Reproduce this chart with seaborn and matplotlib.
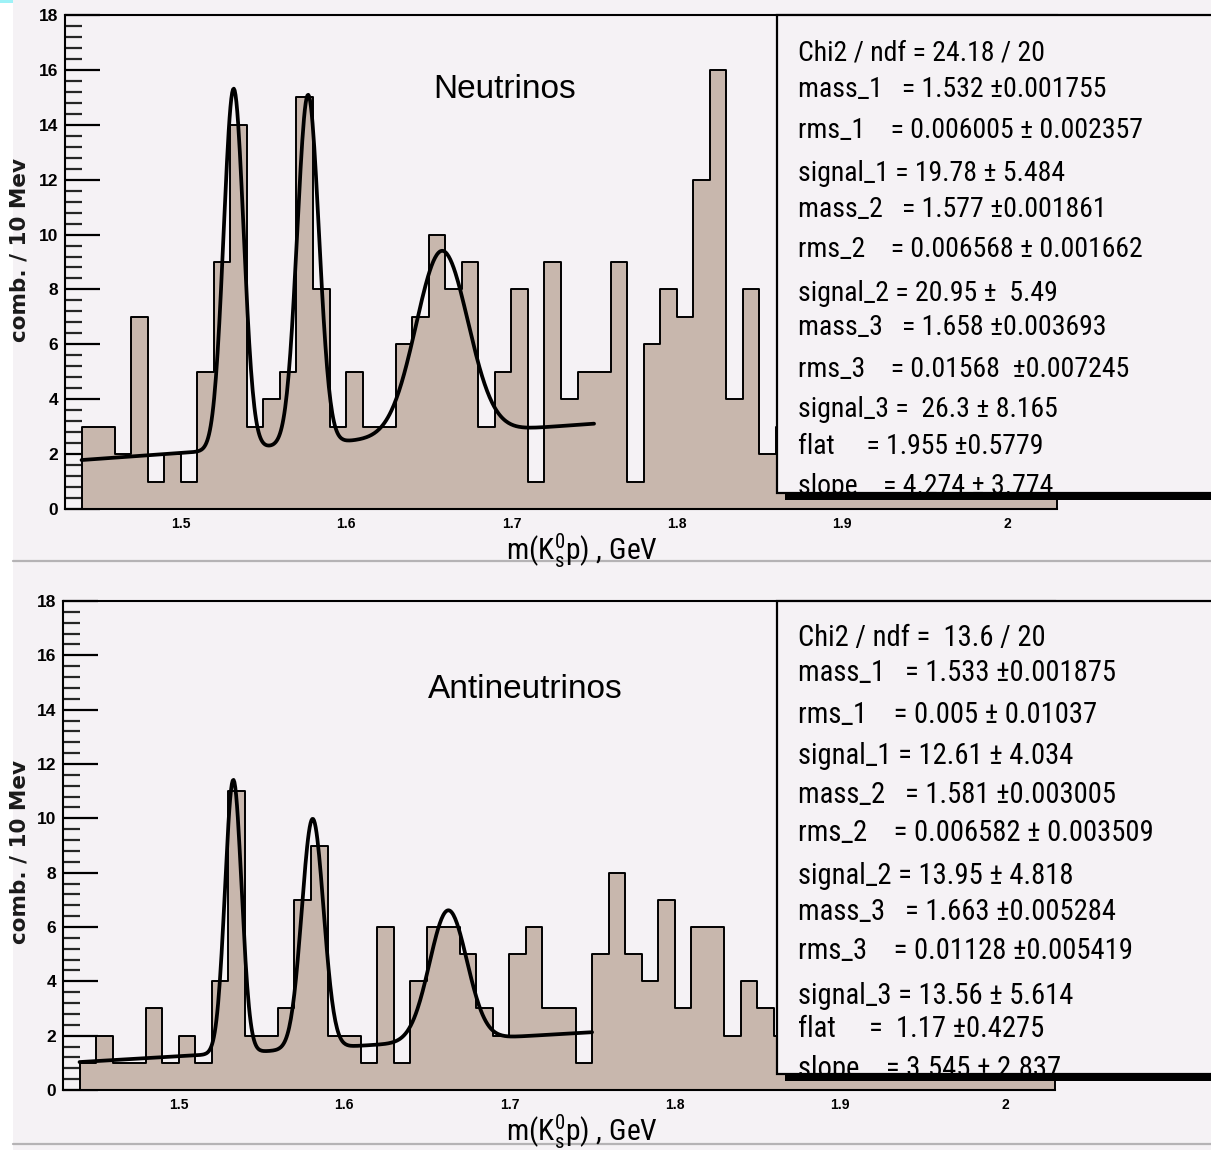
import numpy as np
import pandas as pd
import matplotlib
matplotlib.use("Agg")
import matplotlib.pyplot as plt
import seaborn as sns
from matplotlib.patches import Rectangle
from matplotlib.lines import Line2D
from matplotlib.ticker import FixedLocator, MultipleLocator
from matplotlib import font_manager as fm

# ---------------------------------------------------------------- data
BIN_LO = 1.44          # GeV, lower edge of first bin
BIN_W = 0.01           # GeV, 10 MeV bins

# K0s p combinations per 10 MeV bin, 1.44 .. 2.03 GeV
nu_counts = [3, 3, 2, 7, 1, 2, 1, 5, 9, 14, 3, 4, 5, 15, 8, 3, 5, 3, 3, 6,
             7, 10, 8, 9, 3, 5, 8, 1, 9, 4, 5, 5, 9, 1, 6, 8, 7, 12, 16, 4,
             8, 2, 3, 5, 2, 4, 3, 1, 2, 3, 2, 1, 2, 1, 2, 1, 1, 2, 1]
anu_counts = [1, 2, 1, 1, 3, 1, 2, 1, 4, 11, 2, 2, 3, 7, 9, 2, 2, 1, 6, 1,
              4, 6, 6, 5, 3, 2, 5, 6, 3, 3, 1, 5, 8, 5, 4, 7, 3, 6, 6, 2,
              4, 3, 2, 3, 1, 2, 2, 1, 3, 1, 2, 1, 1, 2, 1, 1, 1, 1, 1]

# fit results: three gaussians on a linear background
nu_mass = [1.532, 1.577, 1.658]
nu_rms = [0.006005, 0.006568, 0.01568]
nu_signal = [19.78, 20.95, 26.3]
nu_flat, nu_slope = 1.955, 4.274

anu_mass = [1.533, 1.581, 1.663]
anu_rms = [0.005, 0.006582, 0.01128]
anu_signal = [12.61, 13.95, 13.56]
anu_flat, anu_slope = 1.17, 3.545

FIT_RANGE = (1.44, 1.75)
BKG_REF = 1.48

nu_stats = ["Chi2 / ndf = 24.18 / 20",
            "mass_1   = 1.532 \u00b10.001755",
            "rms_1    = 0.006005 \u00b1 0.002357",
            "signal_1 = 19.78 \u00b1 5.484",
            "mass_2   = 1.577 \u00b10.001861",
            "rms_2    = 0.006568 \u00b1 0.001662",
            "signal_2 = 20.95 \u00b1  5.49",
            "mass_3   = 1.658 \u00b10.003693",
            "rms_3    = 0.01568  \u00b10.007245",
            "signal_3 =  26.3 \u00b1 8.165",
            "flat     = 1.955 \u00b10.5779",
            "slope    = 4.274 \u00b1 3.774"]
anu_stats = ["Chi2 / ndf =  13.6 / 20",
             "mass_1   = 1.533 \u00b10.001875",
             "rms_1    = 0.005 \u00b1 0.01037",
             "signal_1 = 12.61 \u00b1 4.034",
             "mass_2   = 1.581 \u00b10.003005",
             "rms_2    = 0.006582 \u00b1 0.003509",
             "signal_2 = 13.95 \u00b1 4.818",
             "mass_3   = 1.663 \u00b10.005284",
             "rms_3    = 0.01128 \u00b10.005419",
             "signal_3 = 13.56 \u00b1 5.614",
             "flat     =  1.17 \u00b10.4275",
             "slope    = 3.545 \u00b1 2.837"]

x_ticks = [1.5, 1.6, 1.7, 1.8, 1.9, 2.0]
x_ticklabels = ["1.5", "1.6", "1.7", "1.8", "1.9", "2"]
x_minor = [1.45, 1.55, 1.65, 1.75, 1.85, 1.95]
y_ticks = list(range(0, 19, 2))


# ---------------------------------------------------------------- fonts
def _regular(entry):
    w = entry.weight
    if isinstance(w, str):
        return w.lower() in ("normal", "regular", "book", "medium")
    return 400 <= w <= 500


def find_narrow_font():
    prefs = ["Liberation Sans Narrow", "Roboto Condensed", "Noto Sans Condensed",
             "Noto Sans Cond", "Open Sans Condensed", "DejaVu Sans Condensed",
             "Arial Narrow"]
    entries = [e for e in fm.fontManager.ttflist
               if e.style == "normal" and _regular(e)]
    for p in prefs:
        for e in entries:
            if e.name == p:
                return fm.FontProperties(fname=e.fname)
    for e in entries:
        if str(e.stretch) in ("condensed", "semi-condensed", "extra-condensed"):
            return fm.FontProperties(fname=e.fname)
    return fm.FontProperties(family="Liberation Sans")


NARROW_FP = find_narrow_font()

sns.set_theme(style="ticks")
BG = "#f5f2f5"
TAN = "#c8b7ad"
plt.rcParams["font.family"] = ["Liberation Sans", "DejaVu Sans"]
plt.rcParams["text.color"] = "black"
plt.rcParams["mathtext.fontset"] = "custom"
plt.rcParams["mathtext.rm"] = NARROW_FP.get_name()
plt.rcParams["mathtext.it"] = NARROW_FP.get_name()
plt.rcParams["mathtext.default"] = "regular"

W, H = 1211, 1150
fig = plt.figure(figsize=(W / 100, H / 100), dpi=100, facecolor=BG)
renderer = fig.canvas.get_renderer()


def fx(px):
    return px / W


def fy(py):
    return 1 - py / H


def px_rect(x0, y0, x1, y1, **kw):
    return Rectangle((fx(x0), fy(y1)), (x1 - x0) / W, (y1 - y0) / H,
                     transform=fig.transFigure, **kw)


def fit_width(text, target_px):
    """Scale a text's font size so that it spans target_px pixels."""
    w = text.get_window_extent(renderer).width
    text.set_fontsize(text.get_fontsize() * target_px / w)
    return text.get_fontsize()


# left white margin strip and separators between the two pads
fig.add_artist(px_rect(0, 0, 13, H, fc="white", ec="none", zorder=0))
fig.add_artist(px_rect(0, 0, 13, 3, fc="#9ef2f7", ec="none", zorder=0))
for ysep in (561, 1144):
    fig.add_artist(Line2D([fx(13), 1], [fy(ysep), fy(ysep)],
                          transform=fig.transFigure, color="#b5b3b5", lw=1.6))


def fit_curve(x, mass, rms, signal, flat, slope):
    y = flat + slope * (x - BKG_REF)
    for m, s, n in zip(mass, rms, signal):
        y = y + n * BIN_W / (np.sqrt(2 * np.pi) * s) * np.exp(-0.5 * ((x - m) / s) ** 2)
    return y


def draw_panel(frame, counts, mass, rms, signal, flat, slope, title, title_xy,
               stats, stats_y):
    left, top, right, bottom = frame
    ax = fig.add_axes([fx(left), fy(bottom), (right - left) / W, (bottom - top) / H])
    ax.set_facecolor(BG)

    edges = [round(BIN_LO + BIN_W * i, 4) for i in range(len(counts) + 1)]
    hist_df = pd.DataFrame({
        "mass": [round(BIN_LO + BIN_W * (i + 0.5), 4) for i in range(len(counts))],
        "n": counts,
    })
    sns.histplot(data=hist_df, x="mass", weights="n", bins=edges, element="step",
                 fill=True, color=TAN, edgecolor="black", linewidth=1.4, alpha=1,
                 ax=ax)

    xs = np.linspace(FIT_RANGE[0], FIT_RANGE[1], 600)
    fit_df = pd.DataFrame({"mass": xs,
                           "fit": fit_curve(xs, mass, rms, signal, flat, slope)})
    sns.lineplot(data=fit_df, x="mass", y="fit", color="black", linewidth=2.7,
                 sort=False, estimator=None, ax=ax)

    ax.set_xlim(1.43, 2.03)
    ax.set_ylim(0, 18)
    ax.set_xlabel("")
    ax.set_ylabel("")
    ax.xaxis.set_major_locator(FixedLocator(x_ticks))
    ax.set_xticklabels(x_ticklabels)
    ax.xaxis.set_minor_locator(FixedLocator(x_minor))
    ax.yaxis.set_major_locator(FixedLocator(y_ticks))
    ax.yaxis.set_minor_locator(MultipleLocator(0.4))
    ax.tick_params(axis="y", which="major", direction="in", length=25, width=1.6,
                   labelsize=12.5, pad=5, colors="black")
    ax.tick_params(axis="y", which="minor", direction="in", length=12, width=1.6)
    ax.tick_params(axis="x", which="major", direction="in", length=10, width=1.2,
                   labelsize=10, pad=5.5, colors="black")
    ax.tick_params(axis="x", which="minor", direction="in", length=4, width=1.2)
    for lab in ax.get_xticklabels() + ax.get_yticklabels():
        lab.set_fontweight("bold")
    for side in ("left", "bottom", "top"):
        ax.spines[side].set_linewidth(1.5)
        ax.spines[side].set_color("black")
    ax.spines["right"].set_visible(False)

    ax.text(title_xy[0], title_xy[1], title, transform=fig.transFigure,
            ha="center", va="center", fontsize=24, color="black")

    # fit statistics box with its drop shadow
    box = px_rect(777, top, W + 20, bottom - 16, fc=BG, ec="black", lw=1.6, zorder=5)
    fig.add_artist(box)
    fig.add_artist(px_rect(785, bottom - 16, W + 20, bottom - 9, fc="black",
                           ec="none", zorder=5))
    texts = []
    for s, yc in zip(stats, stats_y):
        t = fig.text(fx(798), fy(yc + 10), s, ha="left", va="baseline",
                     fontproperties=NARROW_FP, fontsize=21, zorder=6,
                     color="black")
        t.set_clip_path(box)
        texts.append(t)
    size = fit_width(texts[0], 246)
    for t in texts[1:]:
        t.set_fontsize(size)

    xl = fig.text(fx(582), fy(bottom + 42), "m(K$^0_s$p) , GeV", ha="center",
                  va="center", fontproperties=NARROW_FP, fontsize=20,
                  color="black")
    fit_width(xl, 152)
    fig.text(fx(20), fy(title_xy[2]), "comb. / 10 Mev",
             rotation=90, ha="center", va="center", fontsize=15.5,
             fontweight="bold", family=["DejaVu Sans"], color="#1a1a1a")
    return ax


draw_panel((65, 15, 1057, 509), nu_counts, nu_mass, nu_rms, nu_signal,
           nu_flat, nu_slope, "Neutrinos", (fx(505), fy(90), 250), nu_stats,
           [50, 87, 128, 171, 207, 247, 291, 325, 367, 407, 444, 484])
draw_panel((63, 601, 1055, 1090), anu_counts, anu_mass, anu_rms, anu_signal,
           anu_flat, anu_slope, "Antineutrinos", (fx(525), fy(690), 852), anu_stats,
           [636, 671, 713, 754, 793, 831, 874, 910, 949, 994, 1027, 1067])

fig.savefig("out.png", dpi=100, facecolor=BG)
